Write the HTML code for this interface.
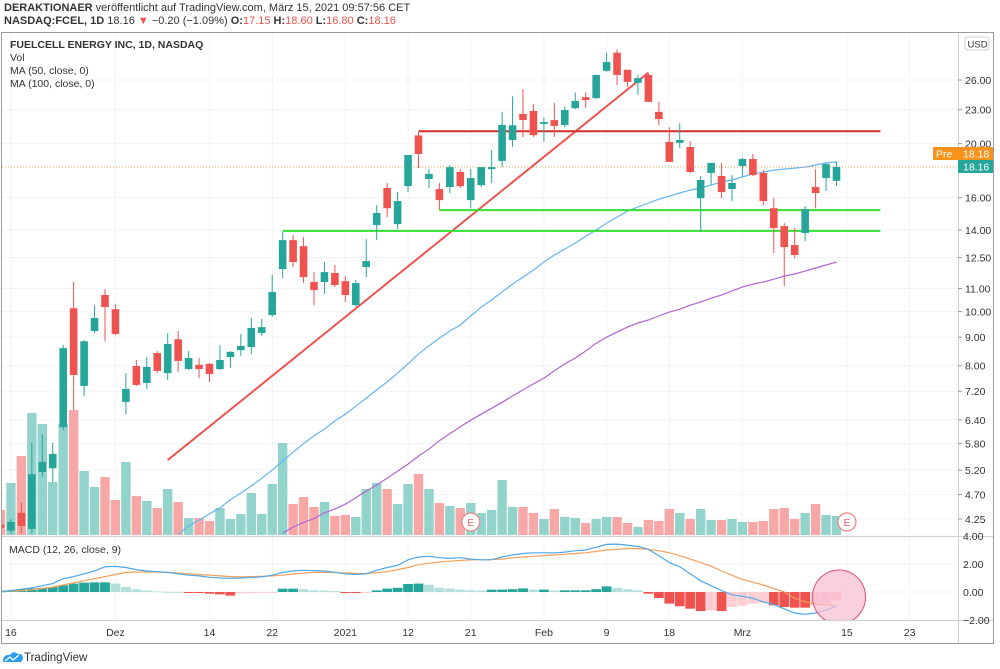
<!DOCTYPE html>
<html><head><meta charset="utf-8">
<style>
body{margin:0;background:#fff;width:1000px;height:669px;overflow:hidden;font-family:"Liberation Sans",sans-serif;}
#hdr1{position:absolute;left:4px;top:2px;font-size:11px;color:#333;}
#hdr2{position:absolute;left:4px;top:15px;font-size:11px;color:#333;}
b{font-weight:bold}
.r{color:#ef5350}
svg{position:absolute;left:0;top:0}
</style></head><body>
<div id="hdr1"><b>DERAKTIONAER</b> veröffentlicht auf TradingView.com, März 15, 2021 09:57:56 CET</div>
<div id="hdr2"><b>NASDAQ:FCEL, 1D</b> 18.16 <span class="r">▼</span> −0.20 (−1.09%) <b>O:</b><span class="r">17.15</span> <b>H:</b><span class="r">18.60</span> <b>L:</b><span class="r">16.80</span> <b>C:</b><span class="r">18.16</span></div>
<svg id="chart" width="1000" height="669"></svg>
<script>
// ---- data (index 0 = Nov 13 2020, trading days) ----
const opens  =[4.15,4.05,4.36,4.08,5.16,5.24,6.21,10.14,7.36,9.23,10.71,10.10,6.89,7.99,7.45,8.43,7.76,8.92,7.89,8.03,8.06,7.89,8.29,8.53,8.64,9.16,9.86,11.92,13.43,13.10,11.30,11.30,11.73,11.34,10.27,12.02,14.29,16.65,14.35,16.78,20.69,17.28,16.58,16.72,17.79,15.84,16.85,18.0,18.62,20.3,22.6,22.88,21.69,22.04,21.6,23.15,24.22,24.13,27.0,29.1,27.12,25.7,26.55,22.8,20.14,20.06,19.72,15.97,17.72,17.5,16.58,18.23,18.77,17.72,15.32,14.23,13.16,13.83,16.72,17.35,17.15];
const highs  =[4.2,4.25,4.55,5.82,6.02,5.82,8.71,11.30,8.89,10.27,10.98,10.31,7.76,8.19,8.29,8.50,9.16,9.23,8.50,8.26,8.09,8.71,8.50,9.12,9.74,9.70,11.63,13.88,13.71,13.60,11.77,12.27,12.12,11.58,11.39,13.49,15.52,17.0,16.38,19.08,21.0,18.0,17.0,18.30,18.0,18.0,18.15,19.48,22.78,24.3,25.04,23.56,22.3,23.65,23.3,24.7,24.7,26.55,29.1,29.5,27.12,26.55,26.8,23.76,21.4,21.76,20.22,17.5,18.47,18.47,17.56,18.85,19.16,17.93,15.97,14.41,14.12,15.45,18.0,18.47,18.60];
const lows   =[4.0,4.0,4.01,4.01,5.06,4.95,6.14,6.66,7.06,9.16,8.85,9.08,6.55,7.36,7.27,7.76,7.54,7.80,7.86,7.60,7.48,7.86,7.93,8.33,8.40,9.05,9.78,11.48,12.02,11.25,10.27,10.76,11.07,10.40,10.19,11.53,13.43,14.77,14.06,16.38,18.08,16.65,15.20,16.31,16.65,15.32,16.72,17.0,18.15,19.72,20.55,20.55,20.14,20.55,21.4,23.06,23.15,24.03,26.9,25.47,25.27,24.45,23.76,21.6,18.54,19.64,17.72,13.9,16.85,15.97,15.78,17.43,17.5,15.52,12.73,11.11,12.47,13.38,15.32,16.45,16.80];
const closes =[4.10,4.20,4.13,5.11,5.38,5.56,8.60,7.70,8.85,9.74,10.19,9.12,7.27,7.39,7.96,7.83,8.75,8.16,8.26,7.89,7.73,8.19,8.47,8.68,9.35,9.38,10.84,13.43,12.27,11.53,10.93,11.77,11.16,10.71,11.25,12.32,15.02,15.32,15.78,19.08,19.16,17.65,15.84,18.15,16.78,17.35,18.15,18.15,21.6,21.57,22.04,20.71,21.86,21.52,22.97,23.84,23.94,26.55,28.0,26.55,25.8,26.2,23.76,22.13,18.54,20.3,17.79,17.21,18.47,16.38,17.0,18.77,17.56,15.78,14.12,13.05,12.63,15.26,16.31,18.38,18.16];
const volumes=[25,52,79,122,111,53,111,125,64,48,58,35,73,39,34,27,46,33,17,17,14,27,16,21,42,21,51,92,31,38,28,33,19,20,18,46,52,46,31,51,61,46,32,29,27,32,22,25,55,28,28,22,16,26,18,17,12,16,18,18,12,8,15,14,26,22,16,26,15,15,16,13,13,14,26,27,16,22,31,20,19];
const ma50Start=17;
const ma50=[3.99,4.13,4.23,4.34,4.45,4.60,4.73,4.87,5.03,5.20,5.40,5.60,5.80,5.99,6.16,6.37,6.55,6.77,7.0,7.24,7.48,7.76,8.06,8.40,8.68,8.96,9.23,9.46,9.82,10.19,10.49,10.85,11.20,11.53,11.87,12.27,12.63,12.94,13.27,13.65,14.0,14.41,14.77,15.14,15.40,15.65,15.90,16.10,16.31,16.51,16.65,16.85,17.07,17.21,17.43,17.65,17.79,17.93,18.0,18.08,18.15,18.30,18.47,18.54];
const ma100Start=27;
const ma100=[4.01,4.11,4.19,4.26,4.36,4.43,4.52,4.64,4.77,4.89,5.03,5.18,5.33,5.51,5.67,5.87,6.04,6.22,6.39,6.55,6.71,6.88,7.06,7.24,7.42,7.60,7.83,8.06,8.26,8.50,8.78,9.0,9.19,9.38,9.54,9.66,9.82,9.98,10.10,10.27,10.40,10.57,10.71,10.89,11.07,11.20,11.30,11.43,11.58,11.68,11.82,11.97,12.12,12.27];
const macdLine=[0.05,0.1,0.2,0.3,0.45,0.6,0.95,1.1,1.3,1.5,1.8,1.83,1.75,1.6,1.5,1.45,1.4,1.3,1.2,1.15,1.05,1.0,0.98,1.0,1.05,1.08,1.2,1.4,1.5,1.55,1.52,1.5,1.4,1.3,1.25,1.3,1.55,1.75,1.9,2.3,2.5,2.55,2.45,2.4,2.45,2.35,2.3,2.3,2.5,2.65,2.75,2.8,2.8,2.8,2.85,2.95,3.0,3.2,3.4,3.42,3.35,3.25,3.05,2.6,2.1,1.8,1.3,0.8,0.45,0.1,-0.2,-0.3,-0.45,-0.7,-0.9,-1.2,-1.5,-1.6,-1.5,-1.3,-1.0];
const signalLine=[0.05,0.07,0.1,0.15,0.25,0.35,0.5,0.65,0.8,0.95,1.1,1.25,1.4,1.43,1.43,1.42,1.4,1.35,1.3,1.25,1.2,1.15,1.1,1.08,1.1,1.12,1.15,1.2,1.28,1.35,1.4,1.4,1.38,1.36,1.33,1.32,1.38,1.45,1.6,1.75,1.95,2.05,2.15,2.2,2.25,2.3,2.3,2.32,2.35,2.45,2.5,2.55,2.6,2.65,2.7,2.75,2.8,2.9,3.0,3.05,3.1,3.1,3.05,2.95,2.8,2.6,2.35,2.1,1.85,1.5,1.2,0.9,0.7,0.5,0.25,0.0,-0.45,-0.7,-0.85,-0.92,-0.97];
const histogram=[0.05,0.1,0.2,0.26,0.3,0.36,0.48,0.6,0.67,0.69,0.69,0.6,0.36,0.19,0.1,0.05,0.02,0.01,-0.07,-0.07,-0.12,-0.17,-0.26,-0.1,-0.08,-0.06,-0.03,0.24,0.24,0.2,0.12,0.1,0.07,-0.07,-0.07,-0.03,0.12,0.24,0.3,0.57,0.6,0.52,0.3,0.24,0.17,0.12,0.1,0.17,0.17,0.2,0.26,0.17,0.17,0.1,0.12,0.12,0.12,0.2,0.4,0.3,0.2,0.12,-0.12,-0.43,-0.83,-1.02,-1.19,-1.36,-1.31,-1.36,-1.07,-0.98,-0.83,-0.79,-0.95,-1.07,-1.12,-1.12,-0.95,-0.8,-0.6];
const priceTicks=[26,23,20,16,14,12.5,11,10,9,8,7.2,6.4,5.8,5.2,4.7,4.25];
const macdTicks=[4,2,0,-2];
const timeLabels=[[1,"16"],[11,"Dez"],[20,"14"],[26,"22"],[33,"2021"],[39,"12"],[45,"21"],[52,"Feb"],[58,"9"],[64,"18"],[71,"Mrz"],[81,"15"],[87,"23"]];
// drawings (price levels / anchor indices)
const trendLine=[[16,5.42],[62,26.8]];
const resistance=[40,21.05];
const support1=[27,13.95];
const support2=[42,15.2];
const earnings=[45,81];

// ---- scales ----
const X0=0.5, STEP=10.45;
const xs=i=>X0+i*STEP;
const ys=p=>80+(Math.log(26)-Math.log(p))*242.4;
const volBase=535, volScale=1.0;
const ym=v=>592-v*14;
const NS="http://www.w3.org/2000/svg";
const svg=document.getElementById('chart');
function mk(tag,attrs,parent){const e=document.createElementNS(NS,tag);for(const k in attrs)e.setAttribute(k,attrs[k]);(parent||svg).appendChild(e);return e;}
const defs=mk('defs',{});
const cp=mk('clipPath',{id:'pc'},defs);mk('rect',{x:2,y:33,width:956,height:503},cp);
const cm=mk('clipPath',{id:'mc'},defs);mk('rect',{x:2,y:537,width:956,height:83},cm);

// grid
const grid=mk('g',{stroke:'#f0f3fa','stroke-width':1});


timeLabels.forEach(t=>{const x=xs(t[0]);mk('line',{x1:x,y1:33,x2:x,y2:620},grid);});
priceTicks.forEach(p=>{const y=ys(p);mk('line',{x1:2,y1:y,x2:958,y2:y},grid);});
macdTicks.forEach(v=>{mk('line',{x1:2,y1:ym(v),x2:958,y2:ym(v)},grid);});

const pg=mk('g',{'clip-path':'url(#pc)'});
// volume
const vg=mk('g',{},pg);


volumes.forEach((v,i)=>{const up=closes[i]>=opens[i];const h=v*volScale;
 const r=mk('rect',{x:xs(i)-4.7,y:volBase-h,width:9.4,height:h,fill:up?'#92d3cc':'#f7a8a6'},vg);
 
 });
// MAs
function poly(arr,start,color,name){let d='';arr.forEach((p,k)=>{d+=(k?'L':'M')+xs(start+k).toFixed(1)+','+ys(p).toFixed(1);});
 const e=mk('path',{d:d,fill:'none',stroke:color,'stroke-width':1.2},pg);
 
 }
poly(ma50,ma50Start,'#64b5f0','ma-50-line');
poly(ma100,ma100Start,'#b265d2','ma-100-line');
// drawings
function seg(a,b,color,name,w){const e=mk('line',{x1:xs(a[0]),y1:ys(a[1]),x2:xs(b[0]),y2:ys(b[1]),stroke:color,'stroke-width':w||2},pg);
 
 }
seg(trendLine[0],trendLine[1],'#ef5350','trend-line');
seg(resistance,[84.2,resistance[1]],'#d32f2f','resistance-line');
seg(support1,[84.2,support1[1]],'#33e033','support-line-1');
seg(support2,[84.2,support2[1]],'#33e033','support-line-2');
// last price dotted
const lp=mk('line',{x1:2,y1:ys(18.16),x2:958,y2:ys(18.16),stroke:'#f5a040','stroke-width':1,'stroke-dasharray':'1,2'},pg);


// candles
const cg=mk('g',{},pg);


opens.forEach((o,i)=>{const c=closes[i];const up=c>=o;const col=up?'#26a69a':'#ef5350';const x=xs(i);
 const g=mk('g',{},cg);
 
 
 mk('line',{x1:x,y1:ys(highs[i]),x2:x,y2:ys(lows[i]),stroke:col,'stroke-width':1},g);
 const t=ys(Math.max(o,c)),b=ys(Math.min(o,c));
 mk('rect',{x:x-3.8,y:t,width:7.6,height:Math.max(1.2,b-t),fill:col},g);});
// earnings markers
earnings.forEach(i=>{const g=mk('g',{},pg);
 
 
 mk('circle',{cx:xs(i),cy:522,r:9,fill:'#fff',stroke:'#f08080','stroke-width':1.2},g);
 const t=mk('text',{x:xs(i),y:526,'text-anchor':'middle','font-size':10,fill:'#e06070'},g);t.textContent='E';});

// MACD
const mg=mk('g',{'clip-path':'url(#mc)'});


histogram.forEach((h,i)=>{const prev=i?histogram[i-1]:0;let col;
 if(h>=0)col=h>=prev?'#26a69a':'#b2dfdb';else col=h<=prev?'#ef5350':'#ffcdd2';
 const y0=ym(0),y1=ym(h);
 const r=mk('rect',{x:xs(i)-4.9,y:Math.min(y0,y1),width:9.8,height:Math.max(1,Math.abs(y1-y0)),fill:col},mg);
 
 });
function mline(arr,color,name){let d='';arr.forEach((v,i)=>{d+=(i?'L':'M')+xs(i).toFixed(1)+','+ym(v).toFixed(1);});
 const e=mk('path',{d:d,fill:'none',stroke:color,'stroke-width':1.2},mg);
 
 }
mline(signalLine,'#f5a05a','macd-signal-line');
mline(macdLine,'#4fa8e8','macd-line');
const circ=mk('ellipse',{cx:839,cy:597,rx:26.5,ry:27,fill:'rgba(248,187,208,0.7)',stroke:'#e0507a','stroke-width':1},mg);



// frame & separators
const fr=mk('g',{stroke:'#9a9a9a','stroke-width':1,fill:'none'});


mk('rect',{x:1.5,y:32.5,width:992,height:611},fr);
mk('line',{x1:958.5,y1:33,x2:958.5,y2:643,stroke:'#d0d0d0'},fr);
mk('line',{x1:2,y1:536.5,x2:993,y2:536.5,stroke:'#d0d0d0'},fr);
mk('line',{x1:2,y1:620.5,x2:993,y2:620.5,stroke:'#d0d0d0'},fr);

// axes labels
function txt(x,y,s,opts,name,parent){const t=mk('text',Object.assign({x:x,y:y,'font-size':10.5,fill:'#333'},opts||{}),parent);t.textContent=s;
 
 return t;}
priceTicks.forEach(p=>{const y=ys(p);mk('line',{x1:958,y1:y,x2:962,y2:y,stroke:'#999'});txt(965,y+4,p.toFixed(2),{},'price-tick-label');});
macdTicks.forEach(v=>{const y=ym(v);txt(963,y+4,v.toFixed(2).replace('-','−'),{},'macd-tick-label');});
timeLabels.forEach(t=>{txt(xs(t[0]),636,t[1],{'text-anchor':'middle'},'time-tick-label');});
// price labels
const pre=mk('g',{});


mk('rect',{x:933,y:147,width:60,height:13,fill:'#f7931a',rx:1},pre);
txt(936,157.5,'Pre',{fill:'#fff'},'pre-text',pre);
txt(963,157.5,'18.18',{fill:'#fff'},'pre-price',pre);
const lastl=mk('g',{});


mk('rect',{x:958,y:160,width:35,height:13,fill:'#26a69a'},lastl);
txt(963,170.5,'18.16',{fill:'#fff'},'last-price',lastl);
const usd=mk('g',{});


mk('rect',{x:965,y:37,width:24,height:13,rx:3,fill:'#fff',stroke:'#ccc'},usd);
txt(967.5,47.5,'USD',{'font-size':9.5},'currency-text',usd);
// legend
txt(10,48,'FUELCELL ENERGY INC, 1D, NASDAQ',{'font-weight':'bold','font-size':10.5},'legend-title');
txt(10,61,'Vol',{},'legend-volume');
txt(10,74,'MA (50, close, 0)',{},'legend-ma50');
txt(10,87,'MA (100, close, 0)',{},'legend-ma100');
txt(9,553,'MACD (12, 26, close, 9)',{},'legend-macd');
// logo
const lg=mk('g',{});


mk('path',{d:'M3,662 Q3,654 10,655 Q13,650 18,654 Q23,653 23,659 L21,662 Z',fill:'#2a9ff0'},lg);
mk('path',{d:'M5,661 L10,657 L13,660 L19,655',stroke:'#fff','stroke-width':1.3,fill:'none'},lg);
txt(24,661,'TradingView',{'font-size':11.5,fill:'#333'},'logo-text',lg);
</script>
</body></html>
